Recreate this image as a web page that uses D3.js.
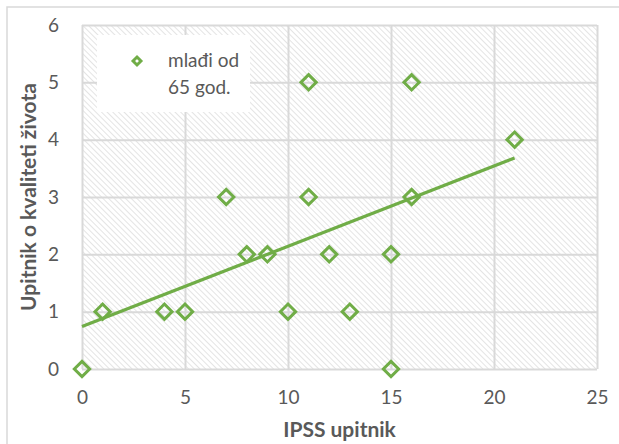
<!DOCTYPE html>
<html><head><meta charset="utf-8">
<script src="https://cdn.jsdelivr.net/npm/d3@7"></script>
<style>body{margin:0;background:#fff}svg{display:block}</style>
</head><body>
<script>
const xValues = [0,1,4,5,7,8,9,10,11,11,12,13,15,15,16,16,21];
const yValues = [0,1,1,1,3,2,2,1,5,3,2,1,2,0,5,3,4];
const xTicks = [0,5,10,15,20,25];
const yTicks = [0,1,2,3,4,5,6];
const trendX = [0,21];
const trendY = [0.74,3.68];
const seriesName = ["mlađi od","65 god."];
const xTitle = "IPSS upitnik";
const yTitle = "Upitnik o kvaliteti života";

const W=619,H=444;
const m={l:82,r:22,t:25,b:75};
const svg=d3.select("body").append("svg").attr("width",W).attr("height",H);
const green="#70ad47", gray="#595959", grid="#d9d9d9";
const font="Lato, 'Open Sans', sans-serif";

svg.append("rect").attr("x",7).attr("y",7).attr("width",W).attr("height",H)
  .attr("fill","#fff").attr("stroke","#d9d9d9").attr("stroke-width",1.5);

const defs=svg.append("defs");
const pat=defs.append("pattern").attr("id","hatch").attr("patternUnits","userSpaceOnUse")
  .attr("width",4).attr("height",4).attr("patternTransform","rotate(-45)");
pat.append("rect").attr("width",4).attr("height",4).attr("fill","#fff");
pat.append("line").attr("x1",0).attr("y1",0).attr("x2",0).attr("y2",4)
  .attr("stroke","#d6d6d6").attr("stroke-width",1.3);

const x=d3.scaleLinear().domain([0,25]).range([m.l,W-m.r]);
const y=d3.scaleLinear().domain([0,6]).range([H-m.b,m.t]);

svg.append("rect").attr("x",x(0)).attr("y",y(6)).attr("width",x(25)-x(0)).attr("height",y(0)-y(6))
  .attr("fill","url(#hatch)");

const gx=svg.append("g").attr("transform",`translate(0,${y(0)})`)
  .call(d3.axisBottom(x).tickValues(xTicks).tickFormat(d3.format("d")).tickSize(-(y(0)-y(6))).tickPadding(22));
const gy=svg.append("g").attr("transform",`translate(${x(0)},0)`)
  .call(d3.axisLeft(y).tickValues(yTicks).tickFormat(d3.format("d")).tickSize(-(x(25)-x(0))).tickPadding(23));
[gx,gy].forEach(g=>{
  g.select(".domain").remove();
  g.selectAll(".tick line").attr("stroke",grid).attr("stroke-width",2);
  g.selectAll(".tick text").attr("fill",gray).attr("font-family",font).attr("font-size",19);
});

// legend box
const lg=svg.append("g");
lg.append("rect").attr("x",97).attr("y",35).attr("width",153).attr("height",77).attr("fill","#fff");
const diamond=d3.symbol().type(d3.symbolDiamond2);
lg.append("path").attr("d",diamond.size(40)()).attr("transform","translate(137,61)")
  .attr("fill","#fff").attr("stroke",green).attr("stroke-width",3);
lg.selectAll("text.lg").data(seriesName).join("text").attr("class","lg")
  .attr("x",168).attr("y",(d,i)=>67+i*27).text(d=>d)
  .attr("fill",gray).attr("font-family",font).attr("font-size",19);

// trend
svg.append("line").attr("x1",x(trendX[0])).attr("y1",y(trendY[0]))
  .attr("x2",x(trendX[1])).attr("y2",y(trendY[1]))
  .attr("stroke",green).attr("stroke-width",3.2);

// points
svg.selectAll("path.pt").data(xValues.map((v,i)=>[v,yValues[i]])).join("path").attr("class","pt")
  .attr("d",diamond.size(150)())
  .attr("transform",d=>`translate(${x(d[0])},${y(d[1])})`)
  .attr("fill","none").attr("stroke",green).attr("stroke-width",3);

svg.append("text").attr("x",(x(0)+x(25))/2).attr("y",437).attr("text-anchor","middle")
  .attr("fill",gray).attr("font-family",font).attr("font-weight","bold").attr("font-size",21).text(xTitle);
svg.append("text").attr("transform",`translate(36,${(y(0)+y(6))/2}) rotate(-90)`).attr("text-anchor","middle")
  .attr("fill",gray).attr("font-family",font).attr("font-weight","bold").attr("font-size",21).text(yTitle);
</script>
</body></html>
